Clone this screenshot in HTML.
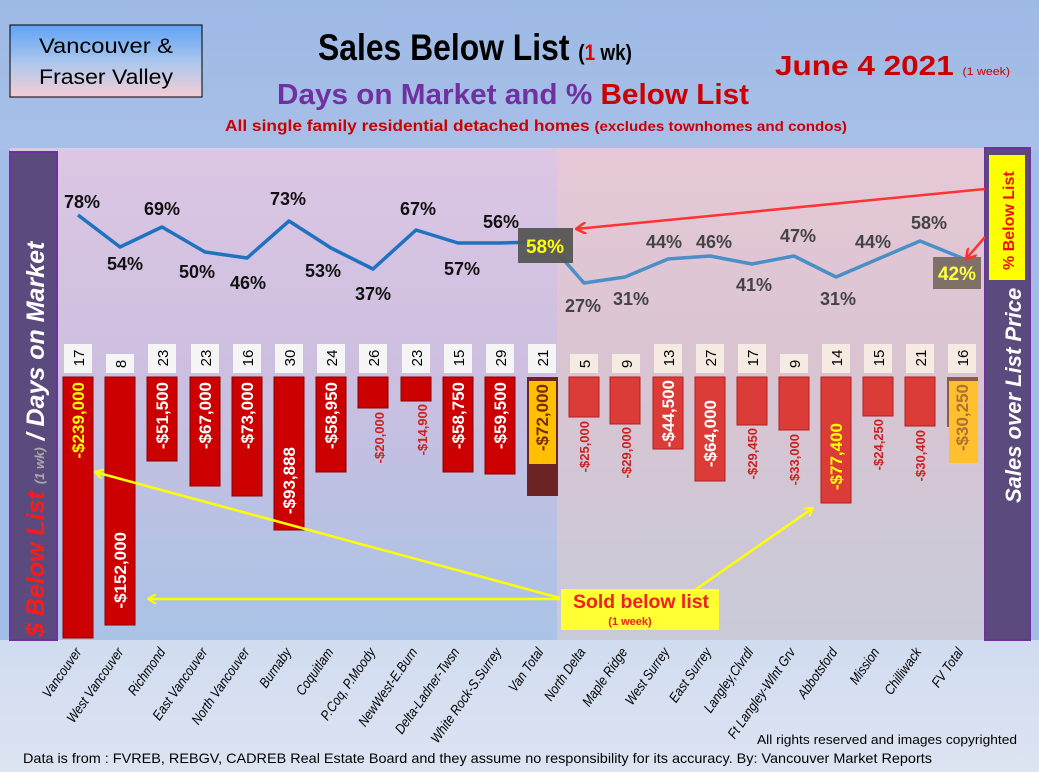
<!DOCTYPE html>
<html><head><meta charset="utf-8"><style>
html,body{margin:0;padding:0;width:1039px;height:772px;overflow:hidden;background:#a3bde6}
svg{display:block;font-family:"Liberation Sans",sans-serif}
</style></head><body>
<svg width="1039" height="772" viewBox="0 0 1039 772" xmlns="http://www.w3.org/2000/svg">
<defs>
<linearGradient id="hdr" x1="0" y1="0" x2="0" y2="1"><stop offset="0" stop-color="#9db9e5"/><stop offset="1" stop-color="#a8c0e8"/></linearGradient>
<linearGradient id="lft" x1="0" y1="0" x2="0" y2="1"><stop offset="0" stop-color="#dcc6e4"/><stop offset="0.45" stop-color="#cdbfe0"/><stop offset="1" stop-color="#a9c3e6"/></linearGradient>
<linearGradient id="rgt" x1="0" y1="0" x2="0" y2="1"><stop offset="0" stop-color="#e6c8d6"/><stop offset="0.5" stop-color="#d8c4d2"/><stop offset="1" stop-color="#c8cad8"/></linearGradient>
<linearGradient id="box" x1="0" y1="0" x2="0" y2="1"><stop offset="0" stop-color="#5fa3f5"/><stop offset="0.55" stop-color="#b0c8ec"/><stop offset="1" stop-color="#f5cdd5"/></linearGradient>
<linearGradient id="bot" x1="0" y1="0" x2="0" y2="1"><stop offset="0" stop-color="#d0dcf0"/><stop offset="1" stop-color="#dde4f2"/></linearGradient>
<marker id="ay" markerWidth="10" markerHeight="10" refX="9" refY="5" orient="auto" markerUnits="userSpaceOnUse"><path d="M1,0 L9,5 L1,10" fill="none" stroke="#ffff00" stroke-width="2"/></marker>
<marker id="ar" markerWidth="12" markerHeight="12" refX="11" refY="6" orient="auto" markerUnits="userSpaceOnUse"><path d="M1,0 L11,6 L1,12" fill="none" stroke="#ff3030" stroke-width="2.5"/></marker>
</defs>
<rect width="1039" height="150" fill="url(#hdr)"/>
<rect y="640" width="1039" height="132" fill="url(#bot)"/>
<rect x="10" y="148" width="1020" height="492" fill="#d9cbe3"/>
<rect x="57" y="150" width="500" height="490" fill="url(#lft)"/>
<rect x="557" y="150" width="430" height="490" fill="url(#rgt)"/>

<!-- header -->
<rect x="10" y="25" width="192" height="72" fill="url(#box)" stroke="#000" stroke-width="1"/>
<text x="106" y="53" font-size="21" text-anchor="middle" fill="#000" textLength="134" lengthAdjust="spacingAndGlyphs">Vancouver &amp;</text>
<text x="106" y="84" font-size="21" text-anchor="middle" fill="#000" textLength="134" lengthAdjust="spacingAndGlyphs">Fraser Valley</text>
<text x="318" y="60" font-size="37" font-weight="bold" fill="#000" textLength="314" lengthAdjust="spacingAndGlyphs">Sales Below List <tspan font-size="22">(<tspan fill="#e00000">1</tspan> wk)</tspan></text>
<text x="775" y="75" font-size="28" font-weight="bold" fill="#cc0000" textLength="235" lengthAdjust="spacingAndGlyphs">June 4  2021 <tspan font-size="11" font-weight="normal">(1 week)</tspan></text>
<text x="277" y="104" font-size="29" font-weight="bold" fill="#7030a0" textLength="472" lengthAdjust="spacingAndGlyphs">Days on Market and % <tspan fill="#cc0000">Below List</tspan></text>
<text x="225" y="131" font-size="16" font-weight="bold" fill="#cc0000" textLength="622" lengthAdjust="spacingAndGlyphs">All single family residential detached homes <tspan font-size="14">(excludes townhomes and condos)</tspan></text>

<!-- sidebars -->
<rect x="10" y="152" width="47" height="488" fill="#5b4a7e" stroke="#7030a0" stroke-width="2"/>
<text transform="translate(44,637) rotate(-90)" font-size="25" font-weight="bold" font-style="italic" fill="#fff"><tspan fill="#ff1a1a">$ Below List</tspan> <tspan font-size="13" fill="#aaa">(1 wk)</tspan> / Days on Market</text>
<rect x="985" y="148" width="45" height="492" fill="#5b4a7e" stroke="#7030a0" stroke-width="2"/>
<rect x="989" y="155" width="36" height="125" fill="#ffff00"/>
<text transform="translate(1014,270) rotate(-90)" font-size="16" font-weight="bold" fill="#ee1111">% Below List</text>
<text transform="translate(1021,503) rotate(-90)" font-size="22" font-weight="bold" font-style="italic" fill="#fff">Sales over List Price</text>

<!-- bars left -->
<g fill="#cc0000" stroke="#8a0000" stroke-width="1">
<rect x="63" y="377" width="30" height="261"/>
<rect x="105" y="377" width="30" height="248"/>
<rect x="147" y="377" width="30" height="84"/>
<rect x="190" y="377" width="30" height="109"/>
<rect x="232" y="377" width="30" height="119"/>
<rect x="274" y="377" width="30" height="153"/>
<rect x="316" y="377" width="30" height="95"/>
<rect x="358" y="377" width="30" height="31"/>
<rect x="401" y="377" width="30" height="24"/>
<rect x="443" y="377" width="30" height="95"/>
<rect x="485" y="377" width="30" height="97"/>
</g>
<rect x="527" y="377" width="31" height="119" fill="#6b2424"/>
<rect x="529" y="381" width="27" height="83" fill="#ffc000"/>
<!-- bars right -->
<g fill="#dc3c38" stroke="#b02020" stroke-width="1">
<rect x="569" y="377" width="30" height="40"/>
<rect x="610" y="377" width="30" height="47"/>
<rect x="653" y="377" width="30" height="72"/>
<rect x="695" y="377" width="30" height="104"/>
<rect x="737" y="377" width="30" height="48"/>
<rect x="779" y="377" width="30" height="53"/>
<rect x="821" y="377" width="30" height="126"/>
<rect x="863" y="377" width="30" height="39"/>
<rect x="905" y="377" width="30" height="49"/>
</g>
<rect x="947" y="377" width="31" height="50" fill="#8a5a4a"/>
<rect x="949" y="381" width="29" height="82" fill="#ffc030"/>

<!-- day boxes -->
<g fill="#f5f5f5">
<rect x="64" y="344" width="28" height="29"/><rect x="106" y="354" width="28" height="19"/>
<rect x="148" y="344" width="28" height="29"/><rect x="191" y="344" width="28" height="29"/>
<rect x="233" y="344" width="28" height="29"/><rect x="275" y="344" width="28" height="29"/>
<rect x="317" y="344" width="28" height="29"/><rect x="359" y="344" width="28" height="29"/>
<rect x="402" y="344" width="28" height="29"/><rect x="444" y="344" width="28" height="29"/>
<rect x="486" y="344" width="28" height="29"/><rect x="528" y="344" width="28" height="29"/>
</g>
<g fill="#f5ebe2">
<rect x="570" y="354" width="28" height="19"/><rect x="612" y="354" width="28" height="19"/>
<rect x="654" y="344" width="28" height="29"/><rect x="696" y="344" width="28" height="29"/>
<rect x="738" y="344" width="28" height="29"/><rect x="780" y="354" width="28" height="19"/>
<rect x="822" y="344" width="28" height="29"/><rect x="864" y="344" width="28" height="29"/>
<rect x="906" y="344" width="28" height="29"/><rect x="948" y="344" width="28" height="29"/>
</g>
<g font-size="15" fill="#000" text-anchor="middle">
<text transform="translate(84,358) rotate(-90)">17</text><text transform="translate(126,364) rotate(-90)">8</text>
<text transform="translate(168,358) rotate(-90)">23</text><text transform="translate(211,358) rotate(-90)">23</text>
<text transform="translate(253,358) rotate(-90)">16</text><text transform="translate(295,358) rotate(-90)">30</text>
<text transform="translate(337,358) rotate(-90)">24</text><text transform="translate(379,358) rotate(-90)">26</text>
<text transform="translate(422,358) rotate(-90)">23</text><text transform="translate(464,358) rotate(-90)">15</text>
<text transform="translate(506,358) rotate(-90)">29</text><text transform="translate(548,358) rotate(-90)">21</text>
<text transform="translate(590,364) rotate(-90)">5</text><text transform="translate(632,364) rotate(-90)">9</text>
<text transform="translate(674,358) rotate(-90)">13</text><text transform="translate(716,358) rotate(-90)">27</text>
<text transform="translate(758,358) rotate(-90)">17</text><text transform="translate(800,364) rotate(-90)">9</text>
<text transform="translate(842,358) rotate(-90)">14</text><text transform="translate(884,358) rotate(-90)">15</text>
<text transform="translate(926,358) rotate(-90)">21</text><text transform="translate(968,358) rotate(-90)">16</text>
</g>

<!-- bar value labels -->
<g font-size="17" font-weight="bold" fill="#fff" text-anchor="end">
<text transform="translate(84,382) rotate(-90)" fill="#ffff00">-$239,000</text>
<text transform="translate(126,532) rotate(-90)">-$152,000</text>
<text transform="translate(168,382) rotate(-90)">-$51,500</text>
<text transform="translate(211,382) rotate(-90)">-$67,000</text>
<text transform="translate(253,382) rotate(-90)">-$73,000</text>
<text transform="translate(295,447) rotate(-90)">-$93,888</text>
<text transform="translate(337,382) rotate(-90)">-$58,950</text>
<text transform="translate(464,382) rotate(-90)">-$58,750</text>
<text transform="translate(506,382) rotate(-90)">-$59,500</text>
<text transform="translate(548,384) rotate(-90)" fill="#7a2a00">-$72,000</text>
<text transform="translate(674,380) rotate(-90)">-$44,500</text>
<text transform="translate(716,400) rotate(-90)">-$64,000</text>
<text transform="translate(842,423) rotate(-90)" fill="#ffff00">-$77,400</text>
<text transform="translate(968,384) rotate(-90)" fill="#b07030">-$30,250</text>
</g>
<g font-size="13" font-weight="bold" fill="#cc2020" text-anchor="end">
<text transform="translate(384,412) rotate(-90)">-$20,000</text>
<text transform="translate(427,404) rotate(-90)">-$14,900</text>
<text transform="translate(589,421) rotate(-90)">-$25,000</text>
<text transform="translate(631,427) rotate(-90)">-$29,000</text>
<text transform="translate(757,428) rotate(-90)">-$29,450</text>
<text transform="translate(799,434) rotate(-90)">-$33,000</text>
<text transform="translate(883,419) rotate(-90)">-$24,250</text>
<text transform="translate(925,430) rotate(-90)">-$30,400</text>
</g>

<!-- lines -->
<polyline points="78,215 120,247 162,227 205,252 247,258 289,221 331,248 373,269 416,230 458,243 500,243 542,242" fill="none" stroke="#1f72c0" stroke-width="3.5" stroke-linejoin="round"/>
<polyline points="562,258 584,283 625,277 668,259 710,256 752,264 794,256 836,277 878,259 920,241 962,258" fill="none" stroke="#4a8fc6" stroke-width="3.5" stroke-linejoin="round"/>
<g font-size="18" font-weight="bold" fill="#111" text-anchor="middle">
<text x="82" y="208">78%</text><text x="125" y="270">54%</text><text x="162" y="215">69%</text>
<text x="197" y="278">50%</text><text x="248" y="289">46%</text><text x="288" y="205">73%</text>
<text x="323" y="277">53%</text><text x="373" y="300">37%</text><text x="418" y="215">67%</text>
<text x="462" y="275">57%</text><text x="501" y="228">56%</text>
</g>
<g font-size="18" font-weight="bold" fill="#444" text-anchor="middle">
<text x="583" y="312">27%</text><text x="631" y="305">31%</text><text x="664" y="248">44%</text>
<text x="714" y="248">46%</text><text x="754" y="291">41%</text><text x="798" y="242">47%</text>
<text x="838" y="305">31%</text><text x="873" y="248">44%</text><text x="929" y="229">58%</text>
</g>
<rect x="518" y="228" width="55" height="35" fill="#555" opacity="0.95"/>
<text x="545" y="253" font-size="19" font-weight="bold" fill="#ffff00" text-anchor="middle">58%</text>
<rect x="933" y="257" width="48" height="32" fill="#7f7068"/>
<text x="957" y="280" font-size="19" font-weight="bold" fill="#ffff40" text-anchor="middle">42%</text>

<!-- annotations -->
<line x1="985" y1="189" x2="576" y2="229" stroke="#ff3333" stroke-width="2.5" marker-end="url(#ar)"/>
<line x1="985" y1="237" x2="966" y2="259" stroke="#ff3333" stroke-width="2.5" marker-end="url(#ar)"/>
<line x1="560" y1="598" x2="95" y2="472" stroke="#ffff00" stroke-width="2.5" marker-end="url(#ay)"/>
<line x1="560" y1="599" x2="148" y2="599" stroke="#ffff00" stroke-width="2.5" marker-end="url(#ay)"/>
<line x1="695" y1="590" x2="813" y2="508" stroke="#ffff00" stroke-width="2.5" marker-end="url(#ay)"/>
<rect x="561" y="589" width="158" height="41" fill="#ffff33"/>
<text x="641" y="608" font-size="19" font-weight="bold" fill="#ee2222" text-anchor="middle" textLength="136" lengthAdjust="spacingAndGlyphs">Sold below list</text>
<text x="630" y="625" font-size="11" font-weight="bold" fill="#ee2222" text-anchor="middle">(1 week)</text>

<!-- x labels -->
<g font-size="14" font-style="italic" fill="#000" text-anchor="end">
<text transform="translate(82,652) rotate(-55) scale(0.86,1)">Vancouver</text>
<text transform="translate(124,652) rotate(-55) scale(0.86,1)">West Vancouver</text>
<text transform="translate(166,652) rotate(-55) scale(0.86,1)">Richmond</text>
<text transform="translate(208,652) rotate(-55) scale(0.86,1)">East Vancouver</text>
<text transform="translate(250,652) rotate(-55) scale(0.86,1)">North Vancouver</text>
<text transform="translate(292,652) rotate(-55) scale(0.86,1)">Burnaby</text>
<text transform="translate(334,652) rotate(-55) scale(0.86,1)">Coquitlam</text>
<text transform="translate(376,652) rotate(-55) scale(0.86,1)">P.Coq, P.Moody</text>
<text transform="translate(418,652) rotate(-55) scale(0.86,1)">NewWest-E.Burn</text>
<text transform="translate(460,652) rotate(-55) scale(0.86,1)">Delta-Ladner-Twsn</text>
<text transform="translate(502,652) rotate(-55) scale(0.86,1)">White Rock-S.Surrey</text>
<text transform="translate(544,652) rotate(-55) scale(0.86,1)">Van Total</text>
<text transform="translate(586,652) rotate(-55) scale(0.86,1)">North Delta</text>
<text transform="translate(628,652) rotate(-55) scale(0.86,1)">Maple Ridge</text>
<text transform="translate(670,652) rotate(-55) scale(0.86,1)">West Surrey</text>
<text transform="translate(712,652) rotate(-55) scale(0.86,1)">East Surrey</text>
<text transform="translate(754,652) rotate(-55) scale(0.86,1)">Langley,Clvrdl</text>
<text transform="translate(796,652) rotate(-55) scale(0.86,1)">Ft Langley-Wlnt Grv</text>
<text transform="translate(838,652) rotate(-55) scale(0.86,1)">Abbotsford</text>
<text transform="translate(880,652) rotate(-55) scale(0.86,1)">Mission</text>
<text transform="translate(922,652) rotate(-55) scale(0.86,1)">Chilliwack</text>
<text transform="translate(964,652) rotate(-55) scale(0.86,1)">FV Total</text>
</g>
<text x="757" y="744" font-size="13" fill="#000" textLength="260" lengthAdjust="spacingAndGlyphs">All rights reserved and  images copyrighted</text>
<text x="23" y="763" font-size="14" fill="#000" textLength="909" lengthAdjust="spacingAndGlyphs">Data is from : FVREB, REBGV, CADREB Real Estate Board and they assume no responsibility for its accuracy. By: Vancouver Market Reports</text>
</svg>
</body></html>
